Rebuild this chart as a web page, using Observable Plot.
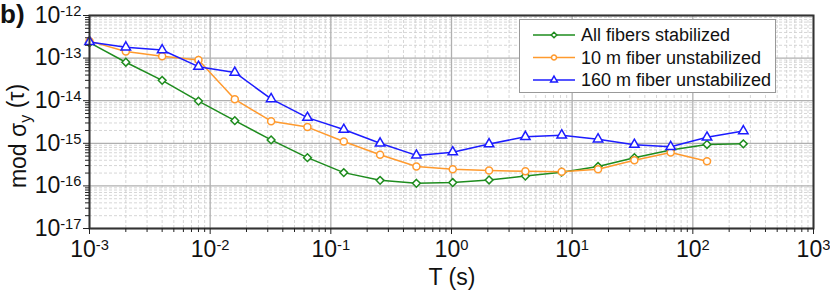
<!DOCTYPE html>
<html>
<head>
<meta charset="utf-8">
<script src="https://cdn.jsdelivr.net/npm/d3@7"></script>
<script src="https://cdn.jsdelivr.net/npm/@observablehq/plot@0.6"></script>
<style>
  html, body { margin: 0; padding: 0; background: #fff; }
  #chart { width: 830px; height: 290px; }
</style>
</head>
<body>
<div id="chart"></div>
<script>
// averaging times (s)
const tau = [0.001, 0.002, 0.004, 0.008, 0.016, 0.032, 0.064, 0.128, 0.256, 0.512,
             1.024, 2.048, 4.096, 8.192, 16.384, 32.768, 65.536, 131.072, 262.144];

const seriesNames = ["All fibers stabilized", "10 m fiber unstabilized", "160 m fiber unstabilized"];
const seriesColors = ["#1e8c1e", "#ff9a2e", "#1c1cff"];
const seriesSymbols = ["diamond2", "circle", "triangle"];

const allStabilized = [2.3e-13, 8.0e-14, 3.0e-14, 9.8e-15, 3.4e-15, 1.2e-15, 4.6e-16, 2.05e-16, 1.35e-16, 1.15e-16,
                       1.2e-16, 1.38e-16, 1.7e-16, 2.1e-16, 2.85e-16, 4.6e-16, 7.0e-16, 9.4e-16, 9.7e-16];
const fiber10m = [2.5e-13, 1.43e-13, 1.1e-13, 9.0e-14, 1.08e-14, 3.3e-15, 2.4e-15, 1.1e-15, 5.4e-16, 2.85e-16,
                  2.45e-16, 2.3e-16, 2.2e-16, 2.15e-16, 2.45e-16, 4.0e-16, 6.1e-16, 3.8e-16];
const fiber160m = [2.4e-13, 1.8e-13, 1.55e-13, 6.3e-14, 4.6e-14, 1.1e-14, 4.0e-15, 2.1e-15, 1.0e-15, 5.2e-16,
                   6.2e-16, 9.6e-16, 1.42e-15, 1.55e-15, 1.25e-15, 9.3e-16, 8.3e-16, 1.38e-15, 1.95e-15];

const xExponents = [-3, -2, -1, 0, 1, 2, 3];
const yExponents = [-17, -16, -15, -14, -13, -12];
const minorMultipliers = [2, 3, 4, 5, 6, 7, 8, 9];

const xTitle = "T (s)";
const panelLabel = "b)";

// build tables
const seriesValues = [allStabilized, fiber10m, fiber160m];
const rows = [];
seriesValues.forEach((vals, s) => vals.forEach((v, i) => rows.push({series: seriesNames[s], t: tau[i], v})));

const xMajor = xExponents.map(e => Math.pow(10, e));
const yMajor = yExponents.map(e => Math.pow(10, e));
const xMinor = xExponents.slice(0, -1).flatMap(e => minorMultipliers.map(m => m * Math.pow(10, e)));
const yMinor = yExponents.slice(0, -1).flatMap(e => minorMultipliers.map(m => m * Math.pow(10, e)));
const fmt = d => "10^" + Math.round(Math.log10(d));

const font = "'Liberation Sans', Arial, sans-serif";

const marks = [
  Plot.gridX(xMinor, {stroke: "#cccccc", strokeOpacity: 1, strokeWidth: 0.8, strokeDasharray: "3,2"}),
  Plot.gridY(yMinor, {stroke: "#cccccc", strokeOpacity: 1, strokeWidth: 0.8, strokeDasharray: "3,2"}),
  Plot.gridX(xMajor, {stroke: "#b0b0b0", strokeOpacity: 1, strokeWidth: 1.3}),
  Plot.gridY(yMajor, {stroke: "#b0b0b0", strokeOpacity: 1, strokeWidth: 1.3}),
];
seriesNames.forEach((name, s) => {
  const data = rows.filter(r => r.series === name);
  marks.push(Plot.line(data, {x: "t", y: "v", stroke: seriesColors[s], strokeWidth: 1.5}));
  marks.push(Plot.dot(data, {x: "t", y: "v", stroke: seriesColors[s], fill: "white", r: 3.5,
                             symbol: () => seriesSymbols[s], strokeWidth: 1.5}));
});
marks.push(
  Plot.frame({stroke: "#333", strokeWidth: 2}),
  Plot.axisX(xMajor, {tickSize: 6, tickPadding: 6, tickFormat: fmt, fontSize: 23, label: null, stroke: "#222"}),
  Plot.axisX(xMinor, {tickSize: 4, tickFormat: () => "", label: null, stroke: "#222"}),
  Plot.axisY(yMajor, {tickSize: 6, tickPadding: 2, tickFormat: fmt, fontSize: 23, label: null, stroke: "#222"}),
  Plot.axisY(yMinor, {tickSize: 4, tickFormat: () => "", label: null, stroke: "#222"})
);

const chart = Plot.plot({
  width: 830,
  height: 290,
  marginLeft: 89,
  marginRight: 17,
  marginTop: 15,
  marginBottom: 62,
  style: {fontFamily: font, color: "#111", background: "white", overflow: "visible"},
  x: {type: "log", domain: [1e-3, 1e3]},
  y: {type: "log", domain: [1e-17, 1e-12]},
  marks
});
document.getElementById("chart").appendChild(chart);

const svg = d3.select(chart);
// superscript tick labels
svg.selectAll("text").each(function() {
  const t = d3.select(this);
  const s = t.text();
  const m = s.match(/^10\^(.*)$/);
  if (!m) return;
  t.text("");
  t.append("tspan").text("10");
  t.append("tspan").attr("dy", "-0.48em").style("font-size", "0.64em").text(m[1]);
});

function addText(x, y, str, size, anchor) {
  return svg.append("text").attr("x", x).attr("y", y)
    .style("text-anchor", anchor).style("font-size", size + "px")
    .style("font-family", font).style("fill", "#111").text(str);
}

// x title
addText(452, 285, xTitle, 23, "middle");

// y title with subscript
const yt = svg.append("text").attr("transform", "translate(26,136) rotate(-90)")
  .style("text-anchor", "middle").style("font-size", "23px").style("font-family", font).style("fill", "#111");
yt.append("tspan").text("mod σ");
yt.append("tspan").attr("dy", "0.3em").style("font-size", "0.7em").text("y");
yt.append("tspan").attr("dy", "-0.3em").text(" (τ)");

// panel label
addText(0, 23, panelLabel, 26, "start").style("font-weight", "bold");

// legend
const lg = svg.append("g");
lg.append("rect").attr("x", 519.5).attr("y", 19.5).attr("width", 256).attr("height", 73)
  .attr("fill", "white").attr("stroke", "#999").attr("stroke-width", 1);
const symMap = {diamond2: d3.symbolDiamond2, circle: d3.symbolCircle, triangle: d3.symbolTriangle};
seriesNames.forEach((name, s) => {
  const yy = 35 + s * 22.5;
  lg.append("line").attr("x1", 533).attr("x2", 575).attr("y1", yy).attr("y2", yy)
    .attr("stroke", seriesColors[s]).attr("stroke-width", 1.5);
  lg.append("path").attr("transform", `translate(554,${yy})`)
    .attr("d", d3.symbol(symMap[seriesSymbols[s]], 20)())
    .attr("fill", "white").attr("stroke", seriesColors[s]).attr("stroke-width", 1.5);
  addText(581, yy, name, 18, "start").attr("dy", "0.36em");
});
</script>
</body>
</html>
